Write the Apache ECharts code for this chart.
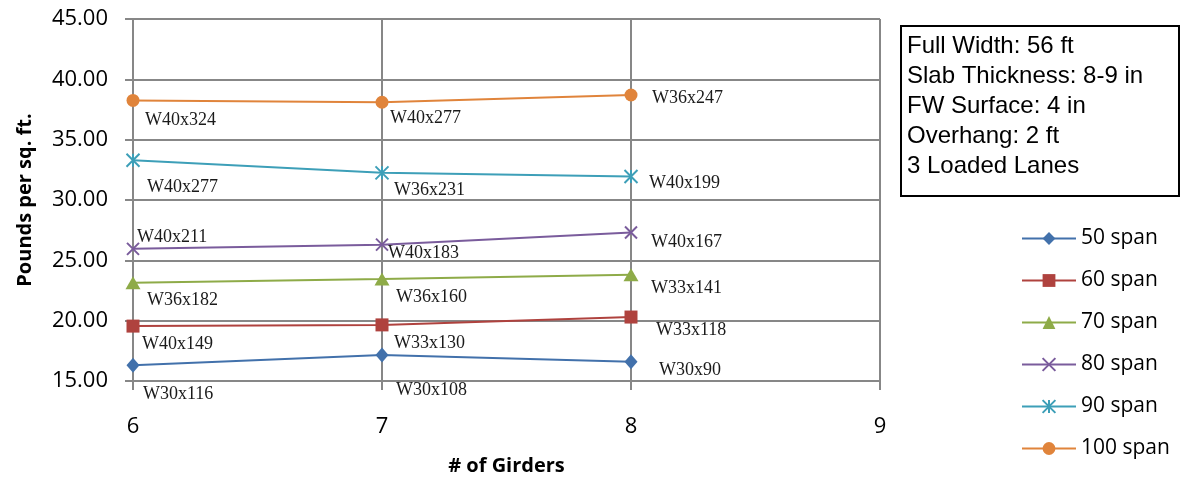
<!DOCTYPE html>
<html>
<head>
<meta charset="utf-8">
<script src="https://cdn.jsdelivr.net/npm/echarts@6/dist/echarts.min.js"></script>
<style>
  html, body { margin: 0; padding: 0; background: #fff; }
  #chart { width: 1191px; height: 485px; }
</style>
</head>
<body>
<div id="chart"></div>
<script>
// Number of girders (x) and steel weight per square foot (y) for each span length
const girders = [6, 7, 8];
const xTicks = [6, 7, 8, 9];
const yTicks = [15, 20, 25, 30, 35, 40, 45];

const seriesNames = ['50 span', '60 span', '70 span', '80 span', '90 span', '100 span'];

const span50 = [16.3, 17.15, 16.6];
const span60 = [19.55, 19.65, 20.3];
const span70 = [23.15, 23.45, 23.8];
const span80 = [25.95, 26.3, 27.3];
const span90 = [33.3, 32.25, 31.95];
const span100 = [38.25, 38.1, 38.7];

// Girder section chosen at each point
const sections50 = ['W30x116', 'W30x108', 'W30x90'];
const sections60 = ['W40x149', 'W33x130', 'W33x118'];
const sections70 = ['W36x182', 'W36x160', 'W33x141'];
const sections80 = ['W40x211', 'W40x183', 'W40x167'];
const sections90 = ['W40x277', 'W36x231', 'W40x199'];
const sections100 = ['W40x324', 'W40x277', 'W36x247'];

const notes = [
  'Full Width: 56 ft',
  'Slab Thickness: 8-9 in',
  'FW Surface: 4 in',
  'Overhang: 2 ft',
  '3 Loaded Lanes'
];

// Label placement (pixel offset of the text's left/middle from the marker centre)
const labelOffsets = [
  [[10, 29], [14, 35], [28, 9]],
  [[9, 18], [12, 18], [25, 13]],
  [[14, 18], [14, 18], [20, 13]],
  [[4, -12], [6, 9], [20, 10]],
  [[14, 27], [12, 17], [18, 7]],
  [[12, 20], [8, 16], [21, 3]]
];

const values = [span50, span60, span70, span80, span90, span100];
const sections = [sections50, sections60, sections70, sections80, sections90, sections100];

const colors = ['#4271AB', '#AF423E', '#8EAB48', '#7A5C9C', '#3D9FB8', '#E0843B'];
const symbols = [
  'diamond',
  'rect',
  'triangle',
  'path://M0,0L10,10M10,0L0,10',
  'path://M0,0L10,10M10,0L0,10M5,0L5,10',
  'circle'
];
const symbolSizes = [[13, 15], 13, [15, 13], 12, 13, 13];
const stroked = [false, false, false, true, true, false];

const gridColor = '#878787';
const sansFont = '"Open Sans", "Liberation Sans", sans-serif';

const series = seriesNames.map((name, i) => ({
  name: name,
  type: 'line',
  symbol: symbols[i],
  symbolSize: symbolSizes[i],
  showAllSymbol: true,
  color: colors[i],
  lineStyle: { color: colors[i], width: 2 },
  itemStyle: stroked[i]
    ? { color: colors[i], borderColor: colors[i], borderWidth: 2 }
    : { color: colors[i] },
  emphasis: { disabled: true },
  z: 2 + i,
  data: girders.map((g, j) => ({
    value: [g, values[i][j]],
    label: {
      show: true,
      position: 'inside',
      align: 'left',
      verticalAlign: 'middle',
      offset: labelOffsets[i][j],
      formatter: sections[i][j],
      fontFamily: '"Liberation Serif", "DejaVu Serif", serif',
      fontSize: 18,
      color: '#1a1a1a'
    }
  }))
}));

const chart = echarts.init(document.getElementById('chart'), null, { renderer: 'canvas' });

chart.setOption({
  animation: false,
  backgroundColor: '#ffffff',
  grid: { left: 133, right: 311, top: 19, bottom: 104, containLabel: false },
  xAxis: {
    type: 'value',
    min: xTicks[0],
    max: xTicks[xTicks.length - 1],
    interval: 1,
    name: '# of Girders',
    nameLocation: 'middle',
    nameGap: 75,
    nameTextStyle: { fontFamily: sansFont, fontWeight: 'bold', fontSize: 20, color: '#000' },
    axisLine: { show: true, lineStyle: { color: gridColor, width: 2 } },
    axisTick: { show: true, length: 9, lineStyle: { color: gridColor, width: 2 } },
    axisLabel: { margin: 35, fontFamily: sansFont, fontSize: 22, color: '#000' },
    splitLine: { show: true, lineStyle: { color: gridColor, width: 2 } }
  },
  yAxis: {
    type: 'value',
    min: yTicks[0],
    max: yTicks[yTicks.length - 1],
    interval: 5,
    name: 'Pounds per sq. ft.',
    nameLocation: 'middle',
    nameGap: 98,
    nameTextStyle: { fontFamily: sansFont, fontWeight: 'bold', fontSize: 20, color: '#000' },
    axisLine: { show: true, lineStyle: { color: gridColor, width: 2 } },
    axisTick: { show: true, length: 8, lineStyle: { color: gridColor, width: 2 } },
    axisLabel: {
      margin: 25,
      fontFamily: sansFont,
      fontSize: 22,
      color: '#000',
      padding: [5, 0, 0, 0],
      formatter: v => v.toFixed(2)
    },
    splitLine: { show: true, lineStyle: { color: gridColor, width: 2 } }
  },
  legend: {
    orient: 'vertical',
    left: 1021,
    top: 228,
    padding: 0,
    itemWidth: 54,
    itemHeight: 16,
    itemGap: 21,
    selectedMode: false,
    data: seriesNames,
    textStyle: { fontFamily: sansFont, fontSize: 21, color: '#000', lineHeight: 16 }
  },
  graphic: [
    {
      type: 'rect',
      left: 900,
      top: 25,
      shape: { width: 278, height: 170 },
      style: { fill: '#fff', stroke: '#000', lineWidth: 2 },
      z: 10
    },
    {
      type: 'text',
      left: 907,
      top: 31,
      style: {
        text: notes.join('\n'),
        fontFamily: '"Liberation Sans", Arial, sans-serif',
        fontSize: 24,
        lineHeight: 30,
        fill: '#000'
      },
      z: 11
    }
  ],
  series: series
});
</script>
</body>
</html>
